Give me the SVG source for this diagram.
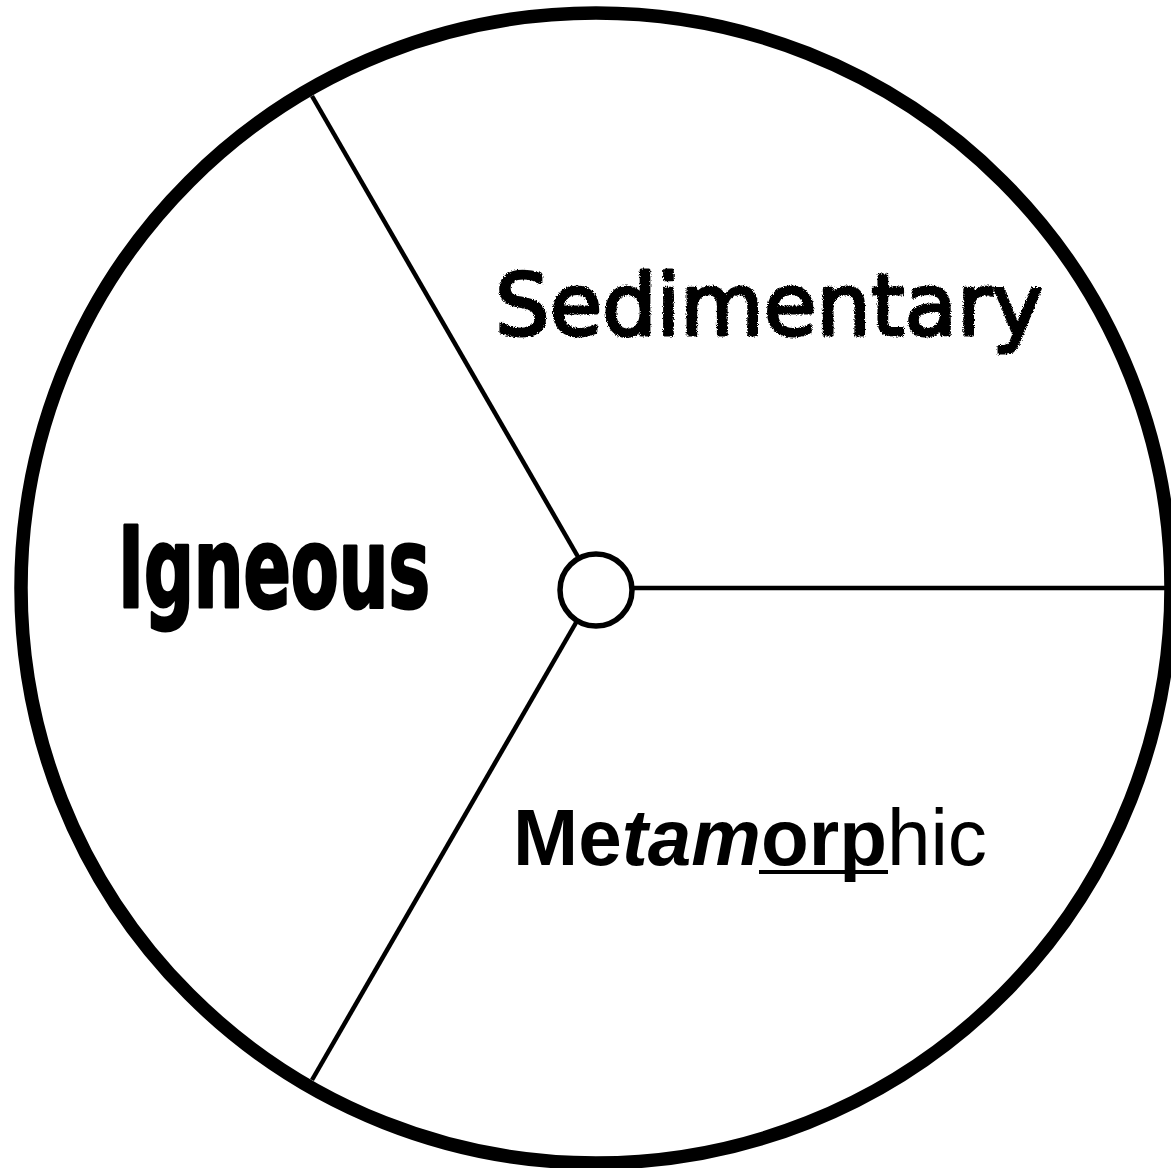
<svg xmlns="http://www.w3.org/2000/svg" width="1171" height="1168" viewBox="0 0 1171 1168">
<defs>
<style>
.spoke{stroke:#000;stroke-width:4.5;fill:none}
.lbl{fill:#000}
</style>
<filter id="rough" x="-5%" y="-20%" width="110%" height="140%">
<feTurbulence type="fractalNoise" baseFrequency="0.9" numOctaves="2" seed="3" result="n"/>
<feDisplacementMap in="SourceGraphic" in2="n" scale="4" xChannelSelector="R" yChannelSelector="G"/>
</filter>
</defs>
<rect width="1171" height="1168" fill="#fff"/>
<g id="wheel">
<circle cx="596" cy="588" r="575" fill="#fff" stroke="#000" stroke-width="13.5"/>
</g>
<g id="connectors">
<line class="spoke" x1="596" y1="588" x2="312" y2="96"/>
<line class="spoke" x1="596" y1="588" x2="312" y2="1080"/>
<line class="spoke" x1="596" y1="588" x2="1165" y2="588"/>
</g>
<g id="hub">
<circle cx="596" cy="590" r="36" fill="#fff" stroke="#000" stroke-width="5.5"/>
</g>
<g id="sedimentary">
<text class="lbl" x="495" y="335" font-family="'DejaVu Sans', sans-serif" font-size="86" textLength="548" lengthAdjust="spacingAndGlyphs" stroke="#000" stroke-width="3" stroke-linejoin="round" filter="url(#rough)">Sedimentary</text>
</g>
<g id="igneous">
<text class="lbl" x="118" y="607" font-family="'DejaVu Sans Condensed', 'DejaVu Sans', sans-serif" font-weight="bold" font-size="112" textLength="312" lengthAdjust="spacingAndGlyphs" stroke="#000" stroke-width="3" stroke-linejoin="round">Igneous</text>
</g>
<g id="metamorphic">
<text class="lbl" x="513" y="865" font-family="'Liberation Sans', Arial, sans-serif" font-size="79" textLength="474" lengthAdjust="spacingAndGlyphs"><tspan font-weight="bold">Me</tspan><tspan font-weight="bold" font-style="italic">tam</tspan><tspan font-weight="bold">orp</tspan><tspan>hic</tspan></text>
<rect x="759" y="870" width="129" height="4" fill="#000"/>
</g>
</svg>
